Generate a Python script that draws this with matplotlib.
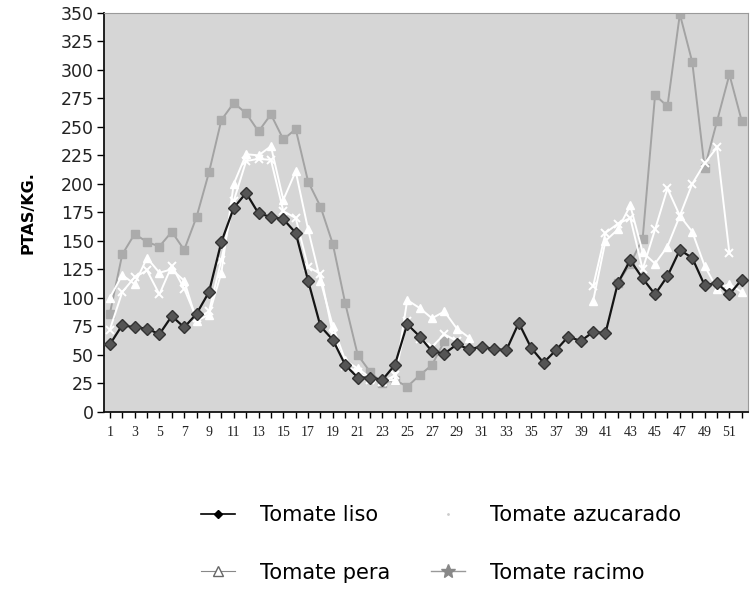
import numpy as np
import matplotlib
matplotlib.use('Agg')
import matplotlib.pyplot as plt
from matplotlib.lines import Line2D

nan = np.nan

# semanas 1..52
semanas = np.arange(1, 53)

tomate_liso = [59, 76, 74, 73, 68, 84, 74, 86, 105, 149,
               179, 192, 174, 171, 169, 157, 115, 75, 63, 41,
               30, 30, 28, 41, 77, 66, 53, 51, 59, 55,
               57, 55, 54, 78, 56, 43, 54, 66, 62, 70,
               69, 113, 133, 117, 103, 119, 142, 135, 111, 113, 103, 116]

tomate_azucarado = [86, 138, 156, 149, 145, 158, 142, 171, 210, 256,
                    271, 262, 246, 261, 239, 248, 202, 180, 147, 95,
                    50, 35, 25, 28, 22, 32, 41, 62, nan, nan,
                    nan, nan, nan, nan, nan, nan, nan, nan, nan, nan,
                    nan, 113, 130, 152, 278, 268, 349, 307, 214, 255, 296, 255]

tomate_pera = [100, 120, 112, 135, 122, 125, 115, 80, 85, 122,
               200, 226, 225, 233, 186, 211, 160, 115, 75, 45,
               38, 30, 27, 28, 98, 91, 82, 88, 73, 65,
               nan, nan, nan, nan, nan, nan, nan, nan, nan, 97,
               150, 160, 181, 140, 130, 145, 172, 158, 128, 108, 112, 105]

tomate_racimo = [72, 105, 118, 124, 103, 128, 108, 82, 88, 133,
                 185, 220, 222, 221, 176, 170, 127, 121, 68, 40,
                 35, 28, 26, 32, 80, 64, 57, 68, 62, nan,
                 nan, nan, nan, nan, nan, nan, nan, nan, nan, 110,
                 157, 165, 170, 125, 160, 196, 172, 200, 218, 232, 139, nan]

y_ticks = np.arange(0, 351, 25)

fig = plt.figure(figsize=(7.51, 5.89), dpi=100)
ax = fig.add_axes([0.138, 0.301, 0.858, 0.677])
ax.set_facecolor('#d6d6d6')

# series
ax.plot(semanas, tomate_azucarado, color='#a3a3a3', lw=1.4, marker='s', ms=6,
        mfc='#ababab', mec='#ababab', zorder=2)
ax.plot(semanas, tomate_racimo, color='white', lw=1.4, marker='x', ms=6,
        mew=1.4, mfc='white', mec='white', zorder=3)
ax.plot(semanas, tomate_pera, color='white', lw=1.4, marker='^', ms=6,
        mfc='white', mec='white', zorder=3)
ax.plot(semanas, tomate_liso, color='#151515', lw=1.6, marker='D', ms=6,
        mfc='#555555', mec='#333333', zorder=4)

ax.set_xlim(0.5, 52.5)
ax.set_ylim(0, 350)
ax.set_yticks(y_ticks)
ax.set_yticklabels([str(v) for v in y_ticks], fontsize=12.5, color='#222222')
ax.set_xticks(semanas)
ax.set_xticklabels([str(s) if s % 2 == 1 else '' for s in semanas],
                   fontsize=10, family='Liberation Serif', color='#222222')
ax.tick_params(axis='x', direction='out', length=4, width=1, pad=6)
ax.tick_params(axis='y', direction='out', length=5, width=1, pad=2)

for s in ['left', 'bottom']:
    ax.spines[s].set_color('#111111')
    ax.spines[s].set_linewidth(1.3)
for s in ['top', 'right']:
    ax.spines[s].set_color('#9a9a9a')
    ax.spines[s].set_linewidth(0.8)

ax.set_ylabel('PTAS/KG.', fontsize=11.5, fontweight='bold', labelpad=18)

# leyenda (marcadores como en el original)
h_liso = Line2D([], [], color='black', lw=1.2, marker='D', ms=4, mfc='black', mec='black')
h_pera = Line2D([], [], color='#888888', lw=0.8, marker='^', ms=7, mfc='white', mec='#666666')
h_azuc = Line2D([], [], color='white', lw=0, marker='.', ms=2, mfc='#cccccc', mec='#cccccc')
h_rac = Line2D([], [], color='#999999', lw=1.0, marker='*', ms=10, mfc='#888888', mec='#888888')

fig.legend([h_liso, h_pera, h_azuc, h_rac],
           ['Tomate liso', 'Tomate pera', 'Tomate azucarado', 'Tomate racimo'],
           ncol=2, frameon=False, fontsize=15, loc='upper left',
           bbox_to_anchor=(0.243, 0.174), handlelength=1.6, handletextpad=1.2,
           labelspacing=1.8, columnspacing=2.0)

fig.savefig('out.png', dpi=100)
